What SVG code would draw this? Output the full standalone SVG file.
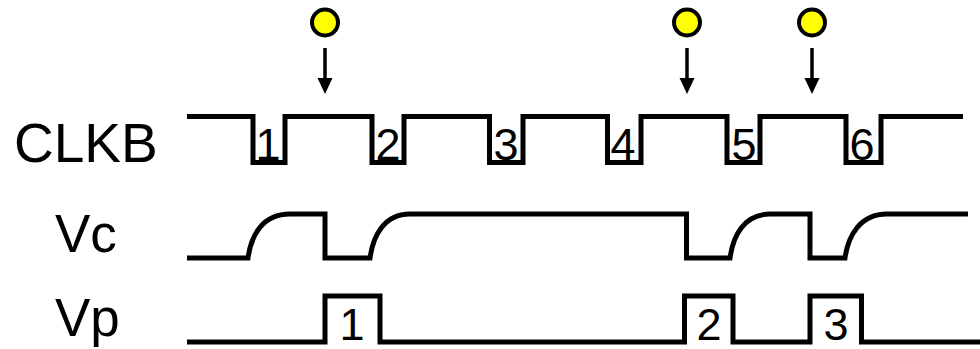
<svg xmlns="http://www.w3.org/2000/svg" width="980" height="349" viewBox="0 0 980 349">
<style>
.wave{fill:none;stroke:#000;stroke-width:5;stroke-linejoin:miter}
.lbl{font-family:"Liberation Sans",Arial,sans-serif;font-size:53px;fill:#000}
.num{font-family:"Liberation Sans",Arial,sans-serif;font-size:45px;fill:#000;text-anchor:middle}
.vnum{font-family:"Liberation Sans",Arial,sans-serif;font-size:45px;fill:#000;text-anchor:middle}
.dot{fill:#ffff00;stroke:#000;stroke-width:4}
.shaft{stroke:#000;stroke-width:3.5}
</style>
<defs>
<g id="marker-arrow">
<circle class="dot" cx="0" cy="22.5" r="13"/>
<line class="shaft" x1="0" y1="48" x2="0" y2="80"/>
<polygon points="-7.5,78 7.5,78 0,94" fill="#000"/>
</g>
</defs>
<rect width="980" height="349" fill="#fff"/>
<g id="markers">
<use href="#marker-arrow" x="325" y="0"/>
<use href="#marker-arrow" x="687" y="0"/>
<use href="#marker-arrow" x="812" y="0"/>
</g>
<g id="clkb">
<text class="lbl" x="14" y="162" style="font-size:55px">CLKB</text>
<path class="wave" d="M187,116.5 H253 V162.5 H285 V116.5 H372 V162.5 H404 V116.5 H489.5 V162.5 H523 V116.5 H607.5 V162.5 H641 V116.5 H727 V162.5 H760 V116.5 H846 V162.5 H881 V116.5 H963"/>
<text class="num" x="268" y="159.5">1</text>
<text class="num" x="388" y="159.5">2</text>
<text class="num" x="506" y="159.5">3</text>
<text class="num" x="623" y="159.5">4</text>
<text class="num" x="744" y="159.5">5</text>
<text class="num" x="862" y="159.5">6</text>
</g>
<g id="vc">
<text class="lbl" x="55" y="252">Vc</text>
<path class="wave" d="M187,258 H248 C251,236 262,214 290,214 H325 V258 H370 C373,236 384,214 410,214 H686.5 V258 H730 C733,236 744,214 770,214 H810 V258 H845 C848,236 860,214 887,214 H968"/>
</g>
<g id="vp">
<text class="lbl" x="55" y="336">Vp</text>
<path class="wave" d="M187,342 H325 V296 H380 V342 H684.5 V296 H733 V342 H810 V296 H861.5 V342 H980"/>
<text class="vnum" x="352" y="340">1</text>
<text class="vnum" x="709" y="340">2</text>
<text class="vnum" x="836" y="340">3</text>
</g>
</svg>
